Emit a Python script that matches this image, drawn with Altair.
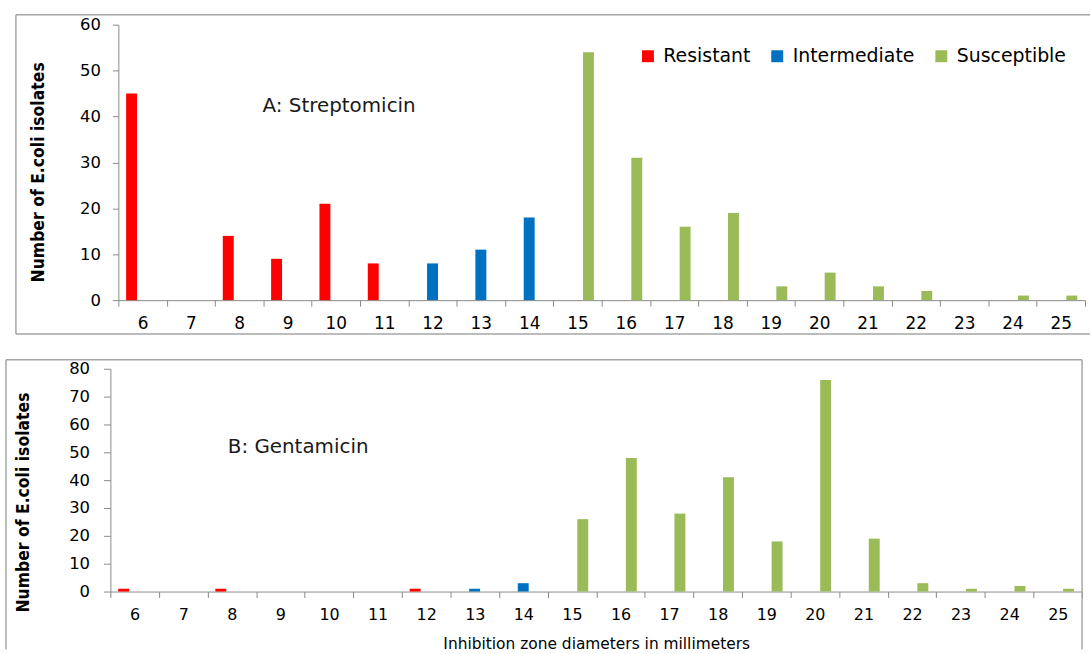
import altair as alt
import pandas as pd

# ---- data ----
categories = [6, 7, 8, 9, 10, 11, 12, 13, 14, 15, 16, 17, 18, 19, 20, 21, 22, 23, 24, 25]
strep_counts = [45, 0, 14, 9, 21, 8, 8, 11, 18, 54, 31, 16, 19, 3, 6, 3, 2, 0, 1, 1]
strep_class = ["Resistant"] * 6 + ["Intermediate"] * 3 + ["Susceptible"] * 11
gent_counts = [1, 0, 1, 0, 0, 0, 1, 1, 3, 26, 48, 28, 41, 18, 76, 19, 3, 1, 2, 1]
gent_class = ["Resistant"] * 7 + ["Intermediate"] * 2 + ["Susceptible"] * 11
classes = ["Resistant", "Intermediate", "Susceptible"]
class_colors = ["#FF0000", "#0070C0", "#9BBB59"]
panel_labels = ["A: Streptomicin", "B: Gentamicin"]
y_title = "Number of E.coli isolates"
x_title = "Inhibition zone diameters in millimeters"

LABEL_FONT = "DejaVu Sans"
TITLE_FONT = "Liberation Sans Narrow, DejaVu Sans Condensed"
GRAY = "#8a8a8a"
FRAME = "#a6a6a6"


def rule(x, x2, y, y2):
    return alt.Chart(pd.DataFrame({"k": [0]})).mark_rule(
        color=FRAME, strokeWidth=1.5
    ).encode(x=alt.value(x), x2=alt.value(x2), y=alt.value(y), y2=alt.value(y2))


def panel(counts, cls, ymax, width, height, x_range, y_offset, legend, show_xtitle,
          label_text, label_xy, ytitle_xy, frame_rules, xlabel_size, xlabel_pad,
          ytick, ylabel_pad):
    df = pd.DataFrame({"mm": categories, "n": counts, "cls": cls})
    xaxis = alt.Axis(
        title=x_title if show_xtitle else None,
        labelAngle=0, tickBand="extent", tickSize=6, tickColor=GRAY,
        domainColor=GRAY, labelFont=LABEL_FONT, labelFontSize=xlabel_size,
        labelColor="black", labelPadding=xlabel_pad, grid=False,
        titleFont=LABEL_FONT, titleFontSize=15.5, titleFontWeight="normal",
        titleColor="black", titlePadding=14,
    )
    yaxis = alt.Axis(
        title=y_title, values=list(range(0, ymax + 1, 10)), grid=False,
        tickSize=ytick, tickColor=GRAY, domainColor=GRAY, offset=y_offset,
        labelFont=LABEL_FONT, labelFontSize=16.5, labelColor="black",
        labelPadding=ylabel_pad,
        titleFont=TITLE_FONT, titleFontSize=17.5, titleFontWeight="bold",
        titleColor="black", titleAngle=270, titleAlign="center",
        titleBaseline="bottom", titleX=ytitle_xy[0], titleY=ytitle_xy[1],
    )
    bars = alt.Chart(df).mark_bar().encode(
        x=alt.X("mm:O", sort=categories,
                scale=alt.Scale(range=x_range, paddingInner=0, paddingOuter=0),
                axis=xaxis),
        xOffset=alt.XOffset("cls:N",
                            scale=alt.Scale(domain=classes, paddingInner=0, paddingOuter=0.71)),
        y=alt.Y("n:Q", scale=alt.Scale(domain=[0, ymax], nice=False), axis=yaxis),
        color=alt.Color("cls:N", scale=alt.Scale(domain=classes, range=class_colors),
                        legend=legend),
    )
    text = alt.Chart(pd.DataFrame({"label": [label_text]})).mark_text(
        align="left", baseline="middle", font=LABEL_FONT, fontSize=20, color="#1a1a1a"
    ).encode(text="label:N", x=alt.value(label_xy[0]), y=alt.value(label_xy[1]))
    return alt.layer(*frame_rules, bars, text).properties(width=width, height=height)


legend = alt.Legend(
    orient="none", legendX=531, legendY=22, direction="horizontal", title=None,
    symbolType="square", symbolSize=144, symbolStrokeWidth=0,
    labelFont=LABEL_FONT, labelFontSize=19, labelColor="black",
    columnPadding=17, labelOffset=6,
)

top = panel(
    strep_counts, strep_class, 60, 980, 277, [8, 980], -8, legend, False,
    panel_labels[0], (153, 82), (-71, 148),
    [rule(-95, -95, -10, 311), rule(-95, 985, -10, -10), rule(-95, 985, 311, 311)],
    17, 10, 6, 12,
)
bottom = panel(
    gent_counts, gent_class, 80, 977, 224, [0, 977], 0, None, True,
    panel_labels[1], (118, 79), (-78, 134),
    [rule(-105, -105, -9, 282), rule(-105, 977, -9, -9), rule(977, 977, -9, 282)],
    16, 9, 7, 14,
)

chart = alt.vconcat(top, bottom, spacing=69, bounds="flush").resolve_scale(
    color="independent"
).properties(
    padding={"left": 5, "top": 12, "right": 0, "bottom": 0}
).configure_view(strokeWidth=0)

chart.save("out.html", embed_options={"renderer": "svg", "actions": False})
